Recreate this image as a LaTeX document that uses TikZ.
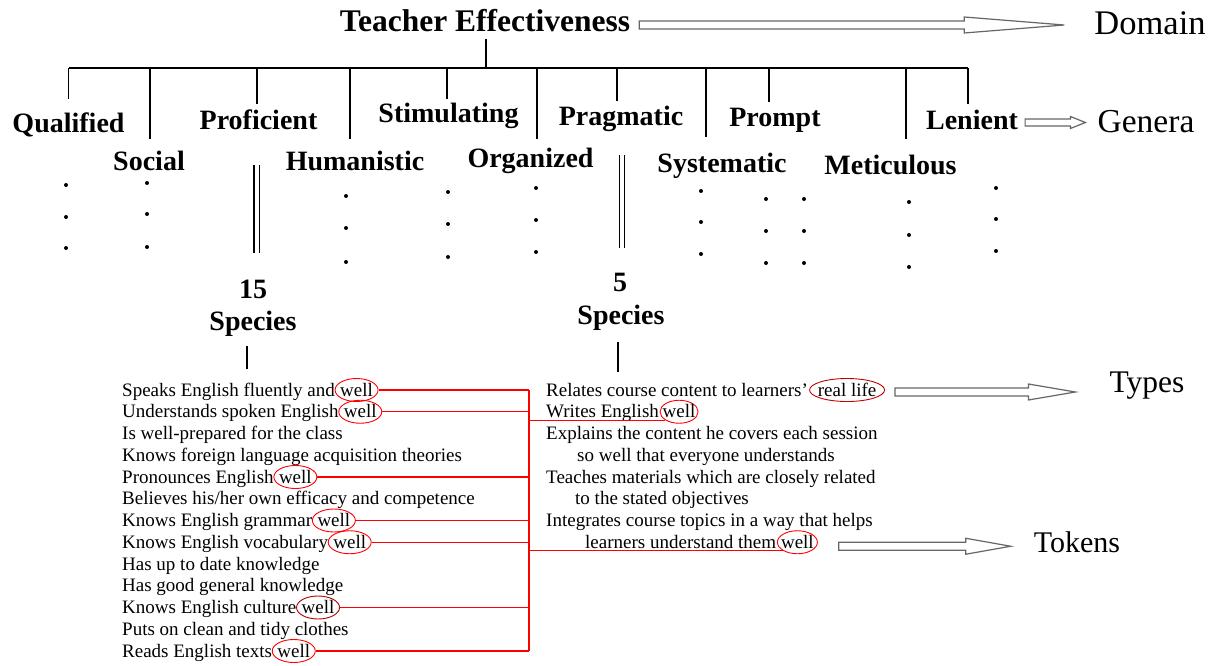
\documentclass[tikz,border=0pt]{standalone}
\usepackage{fontspec}
\setmainfont{Liberation Serif}
\usetikzlibrary{shapes.geometric,calc}
\newcommand\lstfont{\fontsize{19}{22}\selectfont}
\newcommand\hollowarrow[5]{\draw[harrow] let \p1=(#1), \p2=(#2) in (\x1,\y1+#5) -- (\x2-#3,\y1+#5) -- (\x2-#3,\y1+#4) -- (\x2,\y1) -- (\x2-#3,\y1-#4) -- (\x2-#3,\y1-#5) -- (\x1,\y1-#5) -- cycle;}
\newcommand\genline[3]{\draw[tree] ($(#1.north |- bar)+(#2,0)$) -- ($(#1.north)+(#2,-#3)$);}
\tikzset{
  title/.style={font=\fontsize{31.5}{34}\selectfont\bfseries, inner sep=0pt, anchor=base},
  gen/.style={font=\fontsize{28}{30}\selectfont\bfseries, inner sep=0pt, anchor=base},
  rlab/.style={font=\fontsize{#1}{36}\selectfont, inner sep=0pt, anchor=base},
  item/.style={font=\lstfont, inner sep=0pt, anchor=base west},
  wel/.style={ellipse, draw=red, line width=0.9pt, inner sep=0pt, minimum width=#1, minimum height=23pt, text height=12pt, text depth=0pt, font=\lstfont, anchor=base},
  wel/.default=43pt,
  tree/.style={line width=1.3pt},
  dbl/.style={double, double distance=4pt, line width=1.1pt},
  conn/.style={red, line width=1.1pt},
  harrow/.style={draw=black!60, fill=white, line width=1.2pt, line join=miter},
}
\begin{document}
\begin{tikzpicture}[x=1pt,y=-1pt]
\fill[white] (0,0) rectangle (1215,666);
\path[use as bounding box] (0,0) rectangle (1215,666);

% domain
\node[title] (TE) at (485,32) {Teacher Effectiveness};
\node[rlab=34.5] (Domain) at (1150,35) {Domain};
\hollowarrow{$(TE.base east)+(9,-7)$}{$(Domain.base west)+(-30,-10)$}{100pt}{8pt}{4pt}

% genera
\coordinate (bar) at (0,68);
\node[gen] (Qualified) at (68.5,133) {Qualified};
\node[gen] (Social) at (149,171) {Social};
\node[gen] (Proficient) at (258.5,129) {Proficient};
\node[gen] (Humanistic) at (355,171) {Humanistic};
\node[gen] (Stimulating) at (448.5,123) {Stimulating};
\node[gen] (Organized) at (530.5,167) {Organized};
\node[gen] (Pragmatic) at (621,126) {Pragmatic};
\node[gen] (Prompt) at (775,127) {Prompt};
\node[gen] (Systematic) at (722,172) {Systematic};
\node[gen] (Meticulous) at (890.5,175) {Meticulous};
\node[gen] (Lenient) at (972,129) {Lenient};
\node[rlab=33.5] (Genera) at (1146,132) {Genera};
\hollowarrow{$(Lenient.base east)+(7,-6.5)$}{$(Genera.base west)+(-12,-9.5)$}{15pt}{6pt}{3.5pt}

\draw[tree] ($(TE.south)+(1,6)$) -- ($(TE.south |- bar)+(1,0)$);
\draw[tree] (Qualified.north |- bar) -- ($(Lenient.north |- bar)+(-4,0)$);
\genline{Qualified}{0}{14}
\genline{Social}{1}{12}
\genline{Proficient}{-1.5}{5}
\genline{Humanistic}{-5}{12}
\genline{Stimulating}{-1.5}{4}
\genline{Organized}{6.5}{8}
\genline{Pragmatic}{-4}{5}
\genline{Prompt}{-6}{6}
\genline{Systematic}{-16}{15}
\genline{Meticulous}{15.5}{16}
\genline{Lenient}{-4}{5}

% dots
\foreach \x/\y in {66/185,66/217,66/248, 147/183,147/214,147/247, 346/196,346/228,346/262,
  448/192,448/224,448/257, 536/188,536/220,536/252, 701/191,701/222,701/254,
  766/199,766/231,766/263, 804/199,804/231,804/263, 909/202,909/235,909/267,
  996/188,996/219,996/251}
  \fill (\x,\y) circle (2);

% species
\node[gen] (n15) at (253,298) {15};
\node[gen] (sp1) at (253,330) {Species};
\node[gen] (n5) at (620,291) {5};
\node[gen] (sp2) at (621,324) {Species};
\draw[dbl] ($(n15.north)+(3.5,-114)$) -- ($(n15.north)+(3.5,-26)$);
\draw[dbl] ($(n5.north)+(2,-117)$) -- ($(n5.north)+(2,-24)$);
\draw[tree] ($(sp1.south)+(-6,10)$) -- ($(sp1.south)+(-6,33)$);
\draw[tree] ($(sp2.south)+(-3,12)$) -- ($(sp2.south)+(-3,42)$);

% left list
\node[item] (L1) at (122,396) {Speaks English fluently and};
\node[item] (L2) at (122,417.75) {Understands spoken English};
\node[item] (L3) at (122,439.5) {Is well-prepared for the class};
\node[item] (L4) at (122,461.25) {Knows foreign language acquisition theories};
\node[item] (L5) at (122,483) {Pronounces English};
\node[item] (L6) at (122,504.75) {Believes his/her own efficacy and competence};
\node[item] (L7) at (122,526.5) {Knows English grammar};
\node[item] (L8) at (122,548.25) {Knows English vocabulary};
\node[item] (L9) at (122,570) {Has up to date knowledge};
\node[item] (L10) at (122,591.75) {Has good general knowledge};
\node[item] (L11) at (122,613.5) {Knows English culture};
\node[item] (L12) at (122,635.25) {Puts on clean and tidy clothes};
\node[item] (L13) at (122,657) {Reads English texts};
\foreach \k in {1,2,5,7,8,13}
  \node[wel] (W\k) at ($(L\k.base east)+(21.5,0)$) {\makebox[0pt]{well}};
\node[wel, draw=red!70!black] (W11) at ($(L11.base east)+(21.5,0)$) {\makebox[0pt]{well}};

% right list
\node[item] (R1) at (546,396) {Relates course content to learners’};
\node[item] (R2) at (546,417.75) {Writes English};
\node[item] (R3) at (546,439.5) {Explains the content he covers each session};
\node[item] (R4) at (577,461.25) {so well that everyone understands};
\node[item] (R5) at (546,483) {Teaches materials which are closely related};
\node[item] (R6) at (575,504.75) {to the stated objectives};
\node[item] (R7) at (546,526.5) {Integrates course topics in a way that helps};
\node[item] (R8) at (585,548.25) {learners understand them};
\node[wel=75pt, draw=red!75!black] (RL) at ($(R1.base east)+(39,0)$) {\makebox[0pt]{real life}};
\node[wel=38pt] (RW2) at ($(R2.base east)+(20,0)$) {\makebox[0pt]{well}};
\node[wel=40pt] (RW8) at ($(R8.base east)+(21,0)$) {\makebox[0pt]{well}};

% red connectors
\coordinate (bus) at (529,0);
\draw[conn] (W1.east -| bus) -- (W13.east -| bus);
\foreach \k in {1,2,5,7,8,11,13}
  \draw[conn] (W\k.east) -- (W\k.east -| bus);
\draw[conn] (RW2.south west -| bus) -- (RW2.south west);
\draw[conn] (RW8.south west -| bus) -- (RW8.south west);

% types / tokens
\node[rlab=31.5] (Types) at (1147,392) {Types};
\node[rlab=30] (Tokens) at (1077,552) {Tokens};
\hollowarrow{$(RL.east)+(10,2)$}{$(Types.base west)+(-34,-10)$}{47pt}{8pt}{4pt}
\hollowarrow{$(RW8.east)+(21,4)$}{$(Tokens.base west)+(-23,-6)$}{45pt}{8pt}{4pt}
\end{tikzpicture}
\end{document}
